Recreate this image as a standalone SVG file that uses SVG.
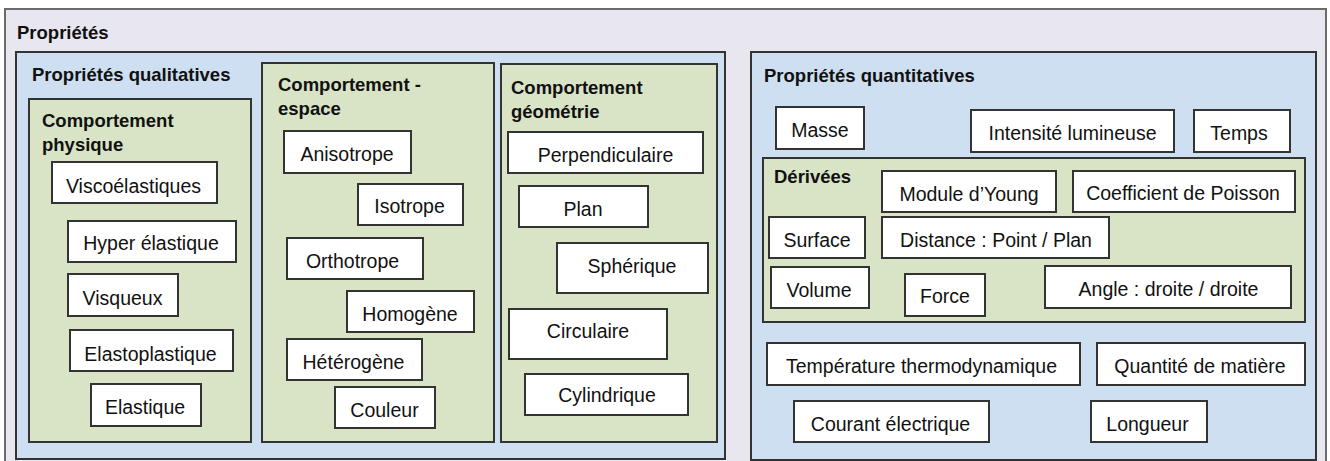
<svg xmlns="http://www.w3.org/2000/svg" width="1330" height="461" viewBox="0 0 1330 461">
<style>
.frame{fill:#e8e6ee;stroke:#6b6b6b;stroke-width:2}
.panel{fill:#cddff0;stroke:#333;stroke-width:2}
.grp{fill:#d9e4c6;stroke:#333;stroke-width:2}
.box{fill:#fff;stroke:#333;stroke-width:2}
.h{font-family:"Liberation Sans",Arial,sans-serif;font-weight:bold;font-size:18.5px;fill:#111}
.t{font-family:"Liberation Sans",Arial,sans-serif;font-size:19.5px;fill:#111;text-anchor:middle}
</style>
<rect x="0" y="0" width="1330" height="461" fill="#fff"/>
<g id="proprietes">
<rect class="frame" x="5" y="9" width="1321" height="470"/>
<text class="h" x="17" y="39">Propriétés</text>
</g>
<g id="qualitatives">
<rect class="panel" x="16" y="52" width="709" height="407"/>
<text class="h" x="32" y="81">Propriétés qualitatives</text>
</g>
<g id="comportement-physique">
<rect class="grp" x="29" y="99" width="222" height="343"/>
<text class="h" x="42" y="127">Comportement</text>
<text class="h" x="42" y="151">physique</text>
</g>
<g id="viscoelastiques"><rect class="box" x="52" y="162" width="165" height="41"/><text class="t" x="133.5" y="192.5">Viscoélastiques</text></g>
<g id="hyper-elastique"><rect class="box" x="68" y="221" width="168" height="41"/><text class="t" x="151" y="250">Hyper élastique</text></g>
<g id="visqueux"><rect class="box" x="68" y="274" width="110" height="42"/><text class="t" x="122.5" y="305">Visqueux</text></g>
<g id="elastoplastique"><rect class="box" x="70" y="330" width="163" height="41"/><text class="t" x="150.5" y="360.5">Elastoplastique</text></g>
<g id="elastique"><rect class="box" x="91" y="384" width="110" height="42"/><text class="t" x="145" y="414">Elastique</text></g>
<g id="comportement-espace">
<rect class="grp" x="262" y="63" width="232" height="379"/>
<text class="h" x="278" y="91">Comportement -</text>
<text class="h" x="278" y="115">espace</text>
</g>
<g id="anisotrope"><rect class="box" x="284" y="131" width="127" height="42"/><text class="t" x="347" y="161">Anisotrope</text></g>
<g id="isotrope"><rect class="box" x="358" y="184" width="105" height="41"/><text class="t" x="409.5" y="213">Isotrope</text></g>
<g id="orthotrope"><rect class="box" x="287" y="238" width="136" height="41"/><text class="t" x="352.5" y="267.5">Orthotrope</text></g>
<g id="homogene"><rect class="box" x="347" y="291" width="127" height="41"/><text class="t" x="410" y="320.5">Homogène</text></g>
<g id="heterogene"><rect class="box" x="287" y="339" width="135" height="41"/><text class="t" x="353.5" y="369">Hétérogène</text></g>
<g id="couleur"><rect class="box" x="335" y="387" width="100" height="41"/><text class="t" x="384.5" y="416.5">Couleur</text></g>
<g id="comportement-geometrie">
<rect class="grp" x="501" y="64" width="216" height="378"/>
<text class="h" x="511" y="94">Comportement</text>
<text class="h" x="511" y="118">géométrie</text>
</g>
<g id="perpendiculaire"><rect class="box" x="508" y="132" width="195" height="41"/><text class="t" x="605.5" y="161.5">Perpendiculaire</text></g>
<g id="plan"><rect class="box" x="519" y="186" width="129" height="41"/><text class="t" x="583" y="215.5">Plan</text></g>
<g id="spherique"><rect class="box" x="557" y="243" width="151" height="50"/><text class="t" x="632" y="272.5">Sphérique</text></g>
<g id="circulaire"><rect class="box" x="509" y="309" width="158" height="50"/><text class="t" x="588" y="338">Circulaire</text></g>
<g id="cylindrique"><rect class="box" x="525" y="374" width="163" height="41"/><text class="t" x="607" y="402">Cylindrique</text></g>
<g id="quantitatives">
<rect class="panel" x="751" y="52" width="565" height="408"/>
<text class="h" x="764" y="82">Propriétés quantitatives</text>
</g>
<g id="masse"><rect class="box" x="776" y="107" width="88" height="42"/><text class="t" x="820" y="136.5">Masse</text></g>
<g id="intensite-lumineuse"><rect class="box" x="971" y="110" width="203" height="42"/><text class="t" x="1072.5" y="140">Intensité lumineuse</text></g>
<g id="temps"><rect class="box" x="1194" y="110" width="96" height="42"/><text class="t" x="1239" y="139.5">Temps</text></g>
<g id="derivees">
<rect class="grp" x="763" y="158" width="542" height="164"/>
<text class="h" x="774" y="183">Dérivées</text>
</g>
<g id="module-young"><rect class="box" x="882" y="171" width="174" height="41"/><text class="t" x="969" y="200.5">Module d’Young</text></g>
<g id="coefficient-poisson"><rect class="box" x="1073" y="171" width="222" height="41"/><text class="t" x="1183" y="200">Coefficient de Poisson</text></g>
<g id="surface"><rect class="box" x="769" y="217" width="96" height="41"/><text class="t" x="817" y="246.5">Surface</text></g>
<g id="distance"><rect class="box" x="882" y="217" width="227" height="41"/><text class="t" x="996" y="246.5">Distance : Point / Plan</text></g>
<g id="volume"><rect class="box" x="771" y="267" width="98" height="41"/><text class="t" x="819" y="297">Volume</text></g>
<g id="force"><rect class="box" x="905" y="274" width="80" height="42"/><text class="t" x="945" y="303">Force</text></g>
<g id="angle"><rect class="box" x="1045" y="266" width="246" height="42"/><text class="t" x="1168.5" y="296">Angle : droite / droite</text></g>
<g id="temperature"><rect class="box" x="767" y="343" width="313" height="42"/><text class="t" x="921.5" y="372.5">Température thermodynamique</text></g>
<g id="quantite-matiere"><rect class="box" x="1097" y="343" width="208" height="42"/><text class="t" x="1200" y="372.5">Quantité de matière</text></g>
<g id="courant"><rect class="box" x="794" y="401" width="195" height="41"/><text class="t" x="890.5" y="430.5">Courant électrique</text></g>
<g id="longueur"><rect class="box" x="1091" y="401" width="116" height="41"/><text class="t" x="1147.5" y="430.5">Longueur</text></g>
</svg>
